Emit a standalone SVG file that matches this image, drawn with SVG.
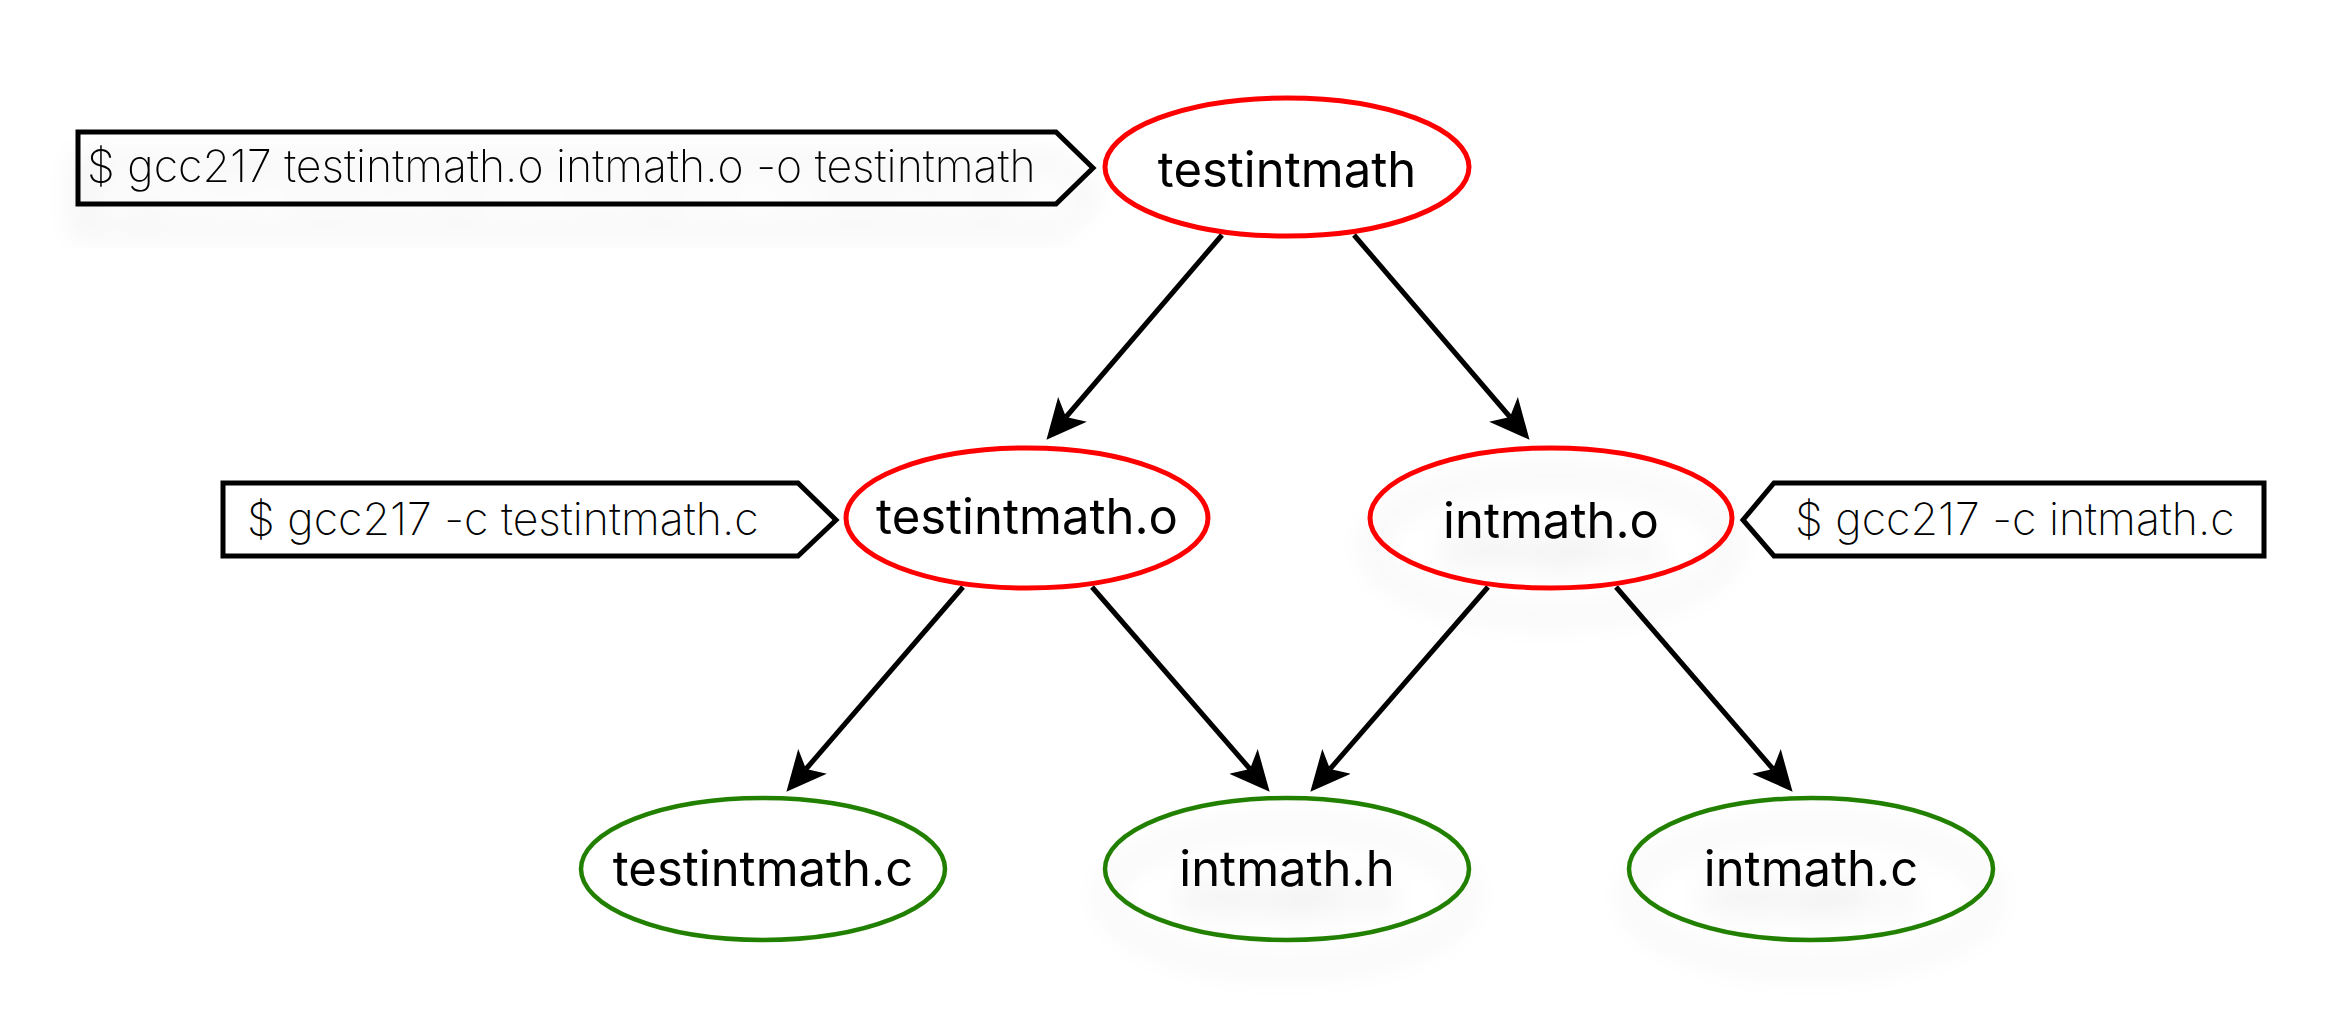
<svg xmlns="http://www.w3.org/2000/svg" width="2340" height="1036" viewBox="0 0 2340 1036">
<style>
.red{fill:none;stroke:#ff0000;stroke-width:5}
.green{fill:none;stroke:#228000;stroke-width:4.5}
.lbl{font-family:Inter,"Noto Sans",sans-serif;font-size:49px;font-weight:400;fill:#000;text-anchor:middle}
.cmd{font-family:Inter,"Noto Sans",sans-serif;font-size:44.6px;font-weight:200;fill:#000}
.call{fill:none;stroke:#000;stroke-width:5;stroke-linejoin:miter}
.edge{stroke:#000;stroke-width:5;fill:none}
</style>
<defs>
<marker id="arr" markerUnits="userSpaceOnUse" markerWidth="40" markerHeight="40" viewBox="0 0 36 34" refX="9" refY="17" orient="auto">
<path d="M0,0 L36,17 L0,34 L9,17 z" fill="#000"/>
</marker>
<filter id="sh" x="-30%" y="-30%" width="160%" height="190%">
<feGaussianBlur in="SourceAlpha" stdDeviation="15"/>
<feOffset dy="28" result="b"/>
<feComponentTransfer><feFuncA type="linear" slope="0.15"/></feComponentTransfer>
<feMerge><feMergeNode/><feMergeNode in="SourceGraphic"/></feMerge>
</filter>
</defs>
<rect width="2340" height="1036" fill="#fff"/>
<g id="connectors">
<line class="edge" x1="1222" y1="235" x2="1066" y2="417" marker-end="url(#arr)"/>
<line class="edge" x1="1354" y1="235" x2="1510" y2="417" marker-end="url(#arr)"/>
<line class="edge" x1="963" y1="587" x2="806" y2="769" marker-end="url(#arr)"/>
<line class="edge" x1="1092" y1="587" x2="1250" y2="769" marker-end="url(#arr)"/>
<line class="edge" x1="1488" y1="587" x2="1330" y2="769" marker-end="url(#arr)"/>
<line class="edge" x1="1616" y1="587" x2="1773" y2="769" marker-end="url(#arr)"/>
</g>
<g id="cmd-link" filter="url(#sh)">
<polygon class="call" points="78,132 1056,132 1093,168 1056,204 78,204"/>
<text class="cmd" x="87" y="182">$ gcc217 testintmath.o intmath.o -o testintmath</text>
</g>
<g id="cmd-testintmath">
<polygon class="call" points="223,483 798,483 836,520 798,556 223,556"/>
<text class="cmd" x="247" y="535">$ gcc217 -c testintmath.c</text>
</g>
<g id="cmd-intmath">
<polygon class="call" points="1774,483 2264,483 2264,556 1774,556 1743,520"/>
<text class="cmd" x="1795" y="535">$ gcc217 -c intmath.c</text>
</g>
<g id="testintmath">
<ellipse class="red" cx="1287" cy="167" rx="182" ry="69"/>
<text class="lbl" x="1287" y="187">testintmath</text>
</g>
<g id="testintmath_o">
<ellipse class="red" cx="1027" cy="518" rx="181" ry="70"/>
<text class="lbl" x="1027" y="534">testintmath.o</text>
</g>
<g id="intmath_o" filter="url(#sh)">
<ellipse class="red" cx="1551" cy="518" rx="181" ry="70"/>
<text class="lbl" x="1551" y="538">intmath.o</text>
</g>
<g id="testintmath_c">
<ellipse class="green" cx="763" cy="869" rx="182" ry="71"/>
<text class="lbl" x="763" y="886">testintmath.c</text>
</g>
<g id="intmath_h" filter="url(#sh)">
<ellipse class="green" cx="1287" cy="869" rx="182" ry="71"/>
<text class="lbl" x="1287" y="886">intmath.h</text>
</g>
<g id="intmath_c" filter="url(#sh)">
<ellipse class="green" cx="1811" cy="869" rx="182" ry="71"/>
<text class="lbl" x="1811" y="886">intmath.c</text>
</g>
</svg>
